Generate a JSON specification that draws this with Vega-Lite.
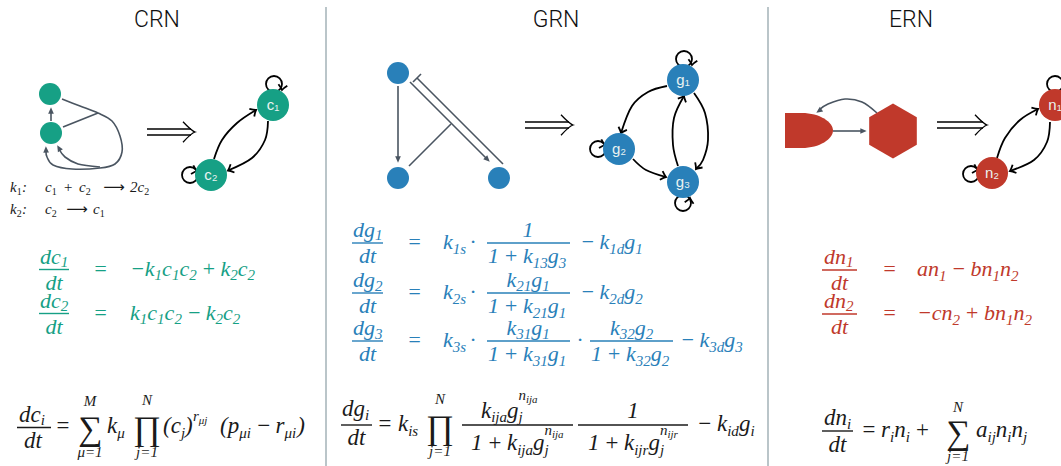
{
"$schema":"https://vega.github.io/schema/vega-lite/v6.json",
"width":1061,"height":466,"padding":0,"autosize":{"type":"none"},
"background":"white",
"config":{"view":{"stroke":null}},
"datasets":{
"div":[{"x":326,"y":7,"y2":466},{"x":768,"y":7,"y2":466}],
"gl":[
{"id":"a","o":1,"x":51,"y":121},{"id":"a","o":2,"x":51,"y":110},
{"id":"b","o":1,"x":62,"y":99},{"id":"b","o":2,"x":80,"y":106},{"id":"b","o":3,"x":98,"y":113},{"id":"b","o":4,"x":112,"y":121},{"id":"b","o":5,"x":120,"y":136},{"id":"b","o":6,"x":122,"y":152},{"id":"b","o":7,"x":115,"y":164},{"id":"b","o":8,"x":100,"y":168},{"id":"b","o":9,"x":72,"y":169},{"id":"b","o":10,"x":53,"y":165},{"id":"b","o":11,"x":47,"y":157},{"id":"b","o":12,"x":46,"y":151},
{"id":"c","o":1,"x":100,"y":167},{"id":"c","o":2,"x":78,"y":164},{"id":"c","o":3,"x":65,"y":157},{"id":"c","o":4,"x":59,"y":149},
{"id":"d","o":1,"x":63,"y":127},{"id":"d","o":2,"x":98,"y":113},
{"id":"e","o":1,"x":398,"y":86},{"id":"e","o":2,"x":398,"y":159},
{"id":"f","o":1,"x":409,"y":166},{"id":"f","o":2,"x":451,"y":124},
{"id":"g","o":1,"x":410,"y":82},{"id":"g","o":2,"x":487,"y":159},
{"id":"h","o":1,"x":503,"y":164},{"id":"h","o":2,"x":417,"y":78},
{"id":"i","o":1,"x":421,"y":74},{"id":"i","o":2,"x":413,"y":82},
{"id":"j","o":1,"x":833,"y":131},{"id":"j","o":2,"x":863,"y":131},
{"id":"k","o":1,"x":877,"y":113},{"id":"k","o":2,"x":862,"y":102},{"id":"k","o":3,"x":845,"y":99},{"id":"k","o":4,"x":828,"y":104},{"id":"k","o":5,"x":819,"y":110}
],
"gh":[{"x":51,"y":110.5,"a":270},{"x":46,"y":149.5,"a":268},{"x":58.8,"y":148,"a":240},{"x":398,"y":159.5,"a":90},{"x":487.5,"y":159.5,"a":45},{"x":863.5,"y":131,"a":0},{"x":818.9,"y":111,"a":145}],
"shp":[{"x":893,"y":131,"s":"hex"},{"x":809,"y":130.5,"s":"half"}],
"ns":[{"x":50,"y":94,"n":"c"},{"x":51,"y":133,"n":"c"},{"x":398,"y":73,"n":"b"},{"x":398,"y":178,"n":"b"},{"x":499,"y":178,"n":"b"}],
"lp":[{"x":274,"y":84},{"x":190,"y":175},{"x":684,"y":59},{"x":598,"y":149},{"x":683,"y":203},{"x":1055,"y":84},{"x":971,"y":174}],
"bl":[
{"id":"p1","o":1,"x":214,"y":159},{"id":"p1","o":2,"x":222,"y":140},{"id":"p1","o":3,"x":237,"y":123},{"id":"p1","o":4,"x":256,"y":110},
{"id":"p2","o":1,"x":268,"y":121},{"id":"p2","o":2,"x":265,"y":140},{"id":"p2","o":3,"x":252,"y":158},{"id":"p2","o":4,"x":228,"y":170.5},
{"id":"p3","o":1,"x":667,"y":86},{"id":"p3","o":2,"x":648,"y":92},{"id":"p3","o":3,"x":632,"y":106},{"id":"p3","o":4,"x":621,"y":133},
{"id":"p4","o":1,"x":633,"y":159},{"id":"p4","o":2,"x":646,"y":170},{"id":"p4","o":3,"x":666,"y":177},
{"id":"p5","o":1,"x":678,"y":166},{"id":"p5","o":2,"x":673,"y":145},{"id":"p5","o":3,"x":674,"y":118},{"id":"p5","o":4,"x":684,"y":96},
{"id":"p6","o":1,"x":694,"y":93},{"id":"p6","o":2,"x":705,"y":113},{"id":"p6","o":3,"x":708,"y":140},{"id":"p6","o":4,"x":703,"y":160},{"id":"p6","o":5,"x":696,"y":169},
{"id":"p7","o":1,"x":997,"y":158},{"id":"p7","o":2,"x":1005,"y":138},{"id":"p7","o":3,"x":1020,"y":120},{"id":"p7","o":4,"x":1038,"y":109},
{"id":"p8","o":1,"x":1050,"y":122},{"id":"p8","o":2,"x":1047,"y":142},{"id":"p8","o":3,"x":1034,"y":160},{"id":"p8","o":4,"x":1010,"y":171}
],
"ch":[{"x":256,"y":110,"a":327},{"x":228,"y":170.5,"a":155},{"x":621,"y":133,"a":110},{"x":666,"y":177,"a":18},{"x":684,"y":96,"a":295},{"x":696,"y":169,"a":125},{"x":1038,"y":109,"a":330},{"x":1010,"y":171,"a":155},
{"x":282,"y":90,"a":100},{"x":197,"y":171,"a":15},{"x":692,"y":65,"a":100},{"x":605,"y":145,"a":15},{"x":690,"y":198,"a":280},{"x":978,"y":170,"a":15}],
"nb":[{"x":273,"y":105,"n":"c","l":"c₁"},{"x":211,"y":175,"n":"c","l":"c₂"},{"x":683,"y":80,"n":"b","l":"g₁"},{"x":619,"y":149,"n":"b","l":"g₂"},{"x":683,"y":182,"n":"b","l":"g₃"},{"x":1055,"y":105,"n":"r","l":"n₁"},{"x":992,"y":173,"n":"r","l":"n₂"}],
"dl":[{"x":147,"x2":191,"y":129},{"x":147,"x2":191,"y":135},{"x":525,"x2":569,"y":122},{"x":525,"x2":569,"y":128},{"x":937,"x2":983,"y":122},{"x":937,"x2":983,"y":128}],
"dh":[{"x":195,"y":132},{"x":573,"y":125},{"x":987,"y":125}],
"fb":[{"x":39,"x2":69,"y":269.5,"n":"c"},{"x":39,"x2":69,"y":313.5,"n":"c"},{"x":17,"x2":51,"y":427.5,"n":"k"},
{"x":352,"x2":383,"y":243,"n":"b"},{"x":487,"x2":570,"y":243,"n":"b"},{"x":352,"x2":383,"y":293,"n":"b"},{"x":487,"x2":570,"y":293,"n":"b"},{"x":352,"x2":383,"y":341,"n":"b"},{"x":487,"x2":570,"y":341,"n":"b"},{"x":590,"x2":673,"y":341,"n":"b"},
{"x":341,"x2":372,"y":425,"n":"k"},{"x":462,"x2":573,"y":425,"n":"k"},{"x":578,"x2":688,"y":425,"n":"k"},
{"x":822,"x2":857,"y":270,"n":"r"},{"x":822,"x2":857,"y":314,"n":"r"},{"x":822,"x2":853,"y":431,"n":"k"}],
"txt":[
{"x":157,"y":27,"t":"CRN","r":"title","n":"k"},{"x":556,"y":27,"t":"GRN","r":"title","n":"k"},{"x":911,"y":27,"t":"ERN","r":"title","n":"k"},
{"x":10,"y":192,"t":"k","r":"rx","n":"k"},{"x":16.7,"y":195,"t":"1","r":"rxs","n":"k"},{"x":22,"y":192,"t":":","r":"rx","n":"k"},{"x":45,"y":192,"t":"c","r":"rx","n":"k"},{"x":51.7,"y":195,"t":"1","r":"rxs","n":"k"},{"x":63,"y":192,"t":"+","r":"rx","n":"k"},{"x":79,"y":192,"t":"c","r":"rx","n":"k"},{"x":85.7,"y":195,"t":"2","r":"rxs","n":"k"},{"x":114,"y":192,"t":"⟶","r":"arr","n":"k"},{"x":130,"y":192,"t":"2c","r":"rx","n":"k"},{"x":144.2,"y":195,"t":"2","r":"rxs","n":"k"},
{"x":10,"y":214,"t":"k","r":"rx","n":"k"},{"x":16.7,"y":217,"t":"2","r":"rxs","n":"k"},{"x":22,"y":214,"t":":","r":"rx","n":"k"},{"x":45,"y":214,"t":"c","r":"rx","n":"k"},{"x":51.7,"y":217,"t":"2","r":"rxs","n":"k"},{"x":77,"y":214,"t":"⟶","r":"arr","n":"k"},{"x":93,"y":214,"t":"c","r":"rx","n":"k"},{"x":99.7,"y":217,"t":"1","r":"rxs","n":"k"},
{"x":40,"y":263.5,"t":"dc","r":"m","n":"c"},{"x":60.8,"y":266.5,"t":"1","r":"s","n":"c"},{"x":45.4,"y":289.5,"t":"dt","r":"m","n":"c"},{"x":93,"y":275.5,"t":"=","r":"m","n":"c"},{"x":130,"y":275.5,"t":"−k","r":"m","n":"c"},{"x":154.6,"y":280,"t":"1","r":"s","n":"c"},{"x":162.1,"y":275.5,"t":"c","r":"m","n":"c"},{"x":171.9,"y":280,"t":"1","r":"s","n":"c"},{"x":179.4,"y":275.5,"t":"c","r":"m","n":"c"},{"x":189.2,"y":280,"t":"2","r":"s","n":"c"},{"x":201.2,"y":275.5,"t":"+","r":"m","n":"c"},{"x":220.5,"y":275.5,"t":"k","r":"m","n":"c"},{"x":230.3,"y":280,"t":"2","r":"s","n":"c"},{"x":237.8,"y":275.5,"t":"c","r":"m","n":"c"},{"x":247.6,"y":280,"t":"2","r":"s","n":"c"},
{"x":40,"y":307.5,"t":"dc","r":"m","n":"c"},{"x":60.8,"y":310.5,"t":"2","r":"s","n":"c"},{"x":45.4,"y":333.5,"t":"dt","r":"m","n":"c"},{"x":93,"y":319.5,"t":"=","r":"m","n":"c"},{"x":130,"y":319.5,"t":"k","r":"m","n":"c"},{"x":139.8,"y":324,"t":"1","r":"s","n":"c"},{"x":147.3,"y":319.5,"t":"c","r":"m","n":"c"},{"x":157.1,"y":324,"t":"1","r":"s","n":"c"},{"x":164.6,"y":319.5,"t":"c","r":"m","n":"c"},{"x":174.4,"y":324,"t":"2","r":"s","n":"c"},{"x":186.4,"y":319.5,"t":"−","r":"m","n":"c"},{"x":205.7,"y":319.5,"t":"k","r":"m","n":"c"},{"x":215.5,"y":324,"t":"2","r":"s","n":"c"},{"x":223,"y":319.5,"t":"c","r":"m","n":"c"},{"x":232.8,"y":324,"t":"2","r":"s","n":"c"},
{"x":19,"y":422,"t":"dc","r":"M","n":"k"},{"x":40.7,"y":425,"t":"i","r":"s","n":"k"},{"x":24,"y":448,"t":"dt","r":"M","n":"k"},{"x":55,"y":433,"t":"=","r":"M","n":"k"},
{"x":90,"y":430,"t":"∑","r":"op","n":"k"},{"x":90,"y":406,"t":"M","r":"lim","n":"k"},{"x":90,"y":457,"t":"μ=1","r":"lim","n":"k"},
{"x":107,"y":433,"t":"k","r":"M","n":"k"},{"x":117.2,"y":437.5,"t":"μ","r":"s","n":"k"},
{"x":147,"y":430,"t":"∏","r":"op","n":"k"},{"x":147,"y":405,"t":"N","r":"lim","n":"k"},{"x":147,"y":457,"t":"j=1","r":"lim","n":"k"},
{"x":163,"y":433,"t":"(c","r":"M","n":"k"},{"x":180.9,"y":437.5,"t":"j","r":"s","n":"k"},{"x":185,"y":433,"t":")","r":"M","n":"k"},{"x":193,"y":421,"t":"r","r":"s","n":"k"},{"x":198.8,"y":424,"t":"μj","r":"ss","n":"k"},
{"x":220,"y":433,"t":"(p","r":"M","n":"k"},{"x":239.2,"y":437.5,"t":"μi","r":"s","n":"k"},{"x":256,"y":433,"t":"−","r":"M","n":"k"},{"x":275.5,"y":433,"t":"r","r":"M","n":"k"},{"x":284.4,"y":437.5,"t":"μi","r":"s","n":"k"},{"x":297.2,"y":433,"t":")","r":"M","n":"k"},
{"x":353,"y":237,"t":"dg","r":"m","n":"b"},{"x":375,"y":240,"t":"1","r":"s","n":"b"},{"x":359,"y":263,"t":"dt","r":"m","n":"b"},{"x":407,"y":249,"t":"=","r":"m","n":"b"},{"x":443,"y":249,"t":"k","r":"m","n":"b"},{"x":452.8,"y":253.5,"t":"1s","r":"s","n":"b"},{"x":470,"y":249,"t":"·","r":"m","n":"b"},{"x":522.5,"y":237,"t":"1","r":"m","n":"b"},{"x":488,"y":263,"t":"1","r":"m","n":"b"},{"x":503.5,"y":263,"t":"+","r":"m","n":"b"},{"x":522.9,"y":263,"t":"k","r":"m","n":"b"},{"x":532.7,"y":267.5,"t":"13","r":"s","n":"b"},{"x":547.7,"y":263,"t":"g","r":"m","n":"b"},{"x":558.7,"y":267.5,"t":"3","r":"s","n":"b"},{"x":580,"y":249,"t":"−","r":"m","n":"b"},{"x":599.4,"y":249,"t":"k","r":"m","n":"b"},{"x":609.2,"y":253.5,"t":"1d","r":"s","n":"b"},{"x":624.2,"y":249,"t":"g","r":"m","n":"b"},{"x":635.2,"y":253.5,"t":"1","r":"s","n":"b"},
{"x":353,"y":287,"t":"dg","r":"m","n":"b"},{"x":375,"y":290.5,"t":"2","r":"s","n":"b"},{"x":359,"y":313,"t":"dt","r":"m","n":"b"},{"x":407,"y":299,"t":"=","r":"m","n":"b"},{"x":443,"y":299,"t":"k","r":"m","n":"b"},{"x":452.8,"y":303.5,"t":"2s","r":"s","n":"b"},{"x":470,"y":299,"t":"·","r":"m","n":"b"},{"x":506.4,"y":287,"t":"k","r":"m","n":"b"},{"x":516.2,"y":290.5,"t":"21","r":"s","n":"b"},{"x":531.2,"y":287,"t":"g","r":"m","n":"b"},{"x":542.2,"y":290.5,"t":"1","r":"s","n":"b"},{"x":488,"y":313,"t":"1","r":"m","n":"b"},{"x":503.5,"y":313,"t":"+","r":"m","n":"b"},{"x":522.9,"y":313,"t":"k","r":"m","n":"b"},{"x":532.7,"y":317.5,"t":"21","r":"s","n":"b"},{"x":547.7,"y":313,"t":"g","r":"m","n":"b"},{"x":558.7,"y":317.5,"t":"1","r":"s","n":"b"},{"x":580,"y":299,"t":"−","r":"m","n":"b"},{"x":599.4,"y":299,"t":"k","r":"m","n":"b"},{"x":609.2,"y":303.5,"t":"2d","r":"s","n":"b"},{"x":624.2,"y":299,"t":"g","r":"m","n":"b"},{"x":635.2,"y":303.5,"t":"2","r":"s","n":"b"},
{"x":353,"y":335,"t":"dg","r":"m","n":"b"},{"x":375,"y":338.5,"t":"3","r":"s","n":"b"},{"x":359,"y":361,"t":"dt","r":"m","n":"b"},{"x":407,"y":347,"t":"=","r":"m","n":"b"},{"x":443,"y":347,"t":"k","r":"m","n":"b"},{"x":452.8,"y":351.5,"t":"3s","r":"s","n":"b"},{"x":470,"y":347,"t":"·","r":"m","n":"b"},{"x":506.4,"y":335,"t":"k","r":"m","n":"b"},{"x":516.2,"y":338.5,"t":"31","r":"s","n":"b"},{"x":531.2,"y":335,"t":"g","r":"m","n":"b"},{"x":542.2,"y":338.5,"t":"1","r":"s","n":"b"},{"x":488,"y":361,"t":"1","r":"m","n":"b"},{"x":503.5,"y":361,"t":"+","r":"m","n":"b"},{"x":522.9,"y":361,"t":"k","r":"m","n":"b"},{"x":532.7,"y":365.5,"t":"31","r":"s","n":"b"},{"x":547.7,"y":361,"t":"g","r":"m","n":"b"},{"x":558.7,"y":365.5,"t":"1","r":"s","n":"b"},{"x":577,"y":347,"t":"·","r":"m","n":"b"},{"x":609.9,"y":335,"t":"k","r":"m","n":"b"},{"x":619.7,"y":338.5,"t":"32","r":"s","n":"b"},{"x":634.7,"y":335,"t":"g","r":"m","n":"b"},{"x":645.7,"y":338.5,"t":"2","r":"s","n":"b"},{"x":591,"y":361,"t":"1","r":"m","n":"b"},{"x":606.5,"y":361,"t":"+","r":"m","n":"b"},{"x":625.9,"y":361,"t":"k","r":"m","n":"b"},{"x":635.7,"y":365.5,"t":"32","r":"s","n":"b"},{"x":650.7,"y":361,"t":"g","r":"m","n":"b"},{"x":661.7,"y":365.5,"t":"2","r":"s","n":"b"},{"x":680,"y":347,"t":"−","r":"m","n":"b"},{"x":699.4,"y":347,"t":"k","r":"m","n":"b"},{"x":709.2,"y":351.5,"t":"3d","r":"s","n":"b"},{"x":724.2,"y":347,"t":"g","r":"m","n":"b"},{"x":735.2,"y":351.5,"t":"3","r":"s","n":"b"},
{"x":342,"y":416,"t":"dg","r":"M","n":"k"},{"x":365,"y":419.5,"t":"i","r":"s","n":"k"},{"x":347.5,"y":445,"t":"dt","r":"M","n":"k"},{"x":377,"y":431,"t":"=","r":"M","n":"k"},{"x":398,"y":431,"t":"k","r":"M","n":"k"},{"x":408.2,"y":435.5,"t":"is","r":"s","n":"k"},
{"x":440,"y":428.5,"t":"∏","r":"op","n":"k"},{"x":440,"y":404,"t":"N","r":"lim","n":"k"},{"x":440,"y":456,"t":"j=1","r":"lim","n":"k"},
{"x":481,"y":418,"t":"k","r":"M","n":"k"},{"x":491.2,"y":421.5,"t":"ija","r":"s","n":"k"},{"x":507,"y":418,"t":"g","r":"M","n":"k"},{"x":518.5,"y":421.5,"t":"j","r":"s","n":"k"},{"x":518.5,"y":400,"t":"n","r":"s","n":"k"},{"x":526,"y":403,"t":"ija","r":"ss","n":"k"},
{"x":471,"y":450,"t":"1","r":"M","n":"k"},{"x":487,"y":450,"t":"+","r":"M","n":"k"},{"x":507,"y":450,"t":"k","r":"M","n":"k"},{"x":517.2,"y":454.5,"t":"ija","r":"s","n":"k"},{"x":533,"y":450,"t":"g","r":"M","n":"k"},{"x":544.5,"y":454.5,"t":"j","r":"s","n":"k"},{"x":544.5,"y":435,"t":"n","r":"s","n":"k"},{"x":552,"y":438,"t":"ija","r":"ss","n":"k"},
{"x":627.3,"y":418,"t":"1","r":"M","n":"k"},
{"x":588,"y":450,"t":"1","r":"M","n":"k"},{"x":604,"y":450,"t":"+","r":"M","n":"k"},{"x":624,"y":450,"t":"k","r":"M","n":"k"},{"x":634.2,"y":454.5,"t":"ijr","r":"s","n":"k"},{"x":648.4,"y":450,"t":"g","r":"M","n":"k"},{"x":659.9,"y":454.5,"t":"j","r":"s","n":"k"},{"x":659.9,"y":435,"t":"n","r":"s","n":"k"},{"x":667.4,"y":438,"t":"ijr","r":"ss","n":"k"},
{"x":697,"y":431,"t":"−","r":"M","n":"k"},{"x":717,"y":431,"t":"k","r":"M","n":"k"},{"x":727.2,"y":435.5,"t":"id","r":"s","n":"k"},{"x":738.9,"y":431,"t":"g","r":"M","n":"k"},{"x":750.4,"y":435.5,"t":"i","r":"s","n":"k"},
{"x":824,"y":264,"t":"dn","r":"m","n":"r"},{"x":846,"y":267,"t":"1","r":"s","n":"r"},{"x":831,"y":290,"t":"dt","r":"m","n":"r"},{"x":882,"y":276,"t":"=","r":"m","n":"r"},{"x":917,"y":276,"t":"an","r":"m","n":"r"},{"x":939,"y":280.5,"t":"1","r":"s","n":"r"},{"x":951,"y":276,"t":"−","r":"m","n":"r"},{"x":970.4,"y":276,"t":"bn","r":"m","n":"r"},{"x":992.4,"y":280.5,"t":"1","r":"s","n":"r"},{"x":999.9,"y":276,"t":"n","r":"m","n":"r"},{"x":1010.9,"y":280.5,"t":"2","r":"s","n":"r"},
{"x":824,"y":308,"t":"dn","r":"m","n":"r"},{"x":846,"y":311,"t":"2","r":"s","n":"r"},{"x":831,"y":334,"t":"dt","r":"m","n":"r"},{"x":882,"y":320,"t":"=","r":"m","n":"r"},{"x":917,"y":320,"t":"−cn","r":"m","n":"r"},{"x":952.6,"y":324.5,"t":"2","r":"s","n":"r"},{"x":964.6,"y":320,"t":"+","r":"m","n":"r"},{"x":984,"y":320,"t":"bn","r":"m","n":"r"},{"x":1006,"y":324.5,"t":"1","r":"s","n":"r"},{"x":1013.5,"y":320,"t":"n","r":"m","n":"r"},{"x":1024.5,"y":324.5,"t":"2","r":"s","n":"r"},
{"x":824,"y":425,"t":"dn","r":"M","n":"k"},{"x":847,"y":428.5,"t":"i","r":"s","n":"k"},{"x":828.6,"y":452,"t":"dt","r":"M","n":"k"},{"x":861,"y":437,"t":"=","r":"M","n":"k"},{"x":881,"y":437,"t":"r","r":"M","n":"k"},{"x":890,"y":441.5,"t":"i","r":"s","n":"k"},{"x":894.2,"y":437,"t":"n","r":"M","n":"k"},{"x":905.7,"y":441.5,"t":"i","r":"s","n":"k"},{"x":914.4,"y":437,"t":"+","r":"M","n":"k"},
{"x":958,"y":434,"t":"∑","r":"op","n":"k"},{"x":958,"y":412,"t":"N","r":"lim","n":"k"},{"x":958,"y":461,"t":"j=1","r":"lim","n":"k"},
{"x":976,"y":437,"t":"a","r":"M","n":"k"},{"x":987.5,"y":441.5,"t":"ij","r":"s","n":"k"},{"x":995.8,"y":437,"t":"n","r":"M","n":"k"},{"x":1007.3,"y":441.5,"t":"i","r":"s","n":"k"},{"x":1011.5,"y":437,"t":"n","r":"M","n":"k"},{"x":1023,"y":441.5,"t":"j","r":"s","n":"k"}
]
},
"layer":[
{"data":{"name":"div"},"mark":{"type":"rule","color":"#a3b2b7","strokeWidth":1.5},
 "encoding":{"x":{"field":"x","type":"quantitative","scale":{"domain":[0,1061],"nice":false,"zero":false},"axis":null},
  "y":{"field":"y","type":"quantitative","scale":{"domain":[0,466],"nice":false,"zero":false,"reverse":true},"axis":null},"y2":{"field":"y2"}}},
{"data":{"name":"gl"},"mark":{"type":"line","interpolate":"cardinal","color":"#4a5561","strokeWidth":1.6},
 "encoding":{"x":{"field":"x","type":"quantitative","axis":null},"y":{"field":"y","type":"quantitative","axis":null},"detail":{"field":"id"},"order":{"field":"o","type":"quantitative"}}},
{"data":{"name":"gh"},"mark":{"type":"point","shape":"M 1 0 L -1 -0.9 L -1 0.9 Z","filled":true,"color":"#4a5561","size":40,"opacity":1},
 "encoding":{"x":{"field":"x","type":"quantitative","axis":null},"y":{"field":"y","type":"quantitative","axis":null},"angle":{"field":"a","type":"quantitative","scale":null}}},
{"data":{"name":"shp"},"transform":[{"filter":"datum.s === 'hex'"}],"mark":{"type":"point","shape":"M 0 -1 L 0.866 -0.5 L 0.866 0.5 L 0 1 L -0.866 0.5 L -0.866 -0.5 Z","filled":true,"color":"#c0392b","size":3025,"opacity":1},
 "encoding":{"x":{"field":"x","type":"quantitative","axis":null},"y":{"field":"y","type":"quantitative","axis":null}}},
{"data":{"name":"shp"},"transform":[{"filter":"datum.s === 'half'"}],"mark":{"type":"point","shape":"M -1 -0.73 L -0.3 -0.73 C 0.45 -0.73 1 -0.35 1 0 C 1 0.35 0.45 0.73 -0.3 0.73 L -1 0.73 Z","filled":true,"color":"#c0392b","size":2304,"opacity":1},
 "encoding":{"x":{"field":"x","type":"quantitative","axis":null},"y":{"field":"y","type":"quantitative","axis":null}}},
{"data":{"name":"ns"},"mark":{"type":"point","shape":"circle","filled":true,"size":484,"opacity":1},
 "encoding":{"x":{"field":"x","type":"quantitative","axis":null},"y":{"field":"y","type":"quantitative","axis":null},
  "color":{"field":"n","type":"nominal","scale":{"domain":["c","b","r","k"],"range":["#16a085","#2980b9","#c0392b","#1a1a1a"]},"legend":null}}},
{"data":{"name":"lp"},"mark":{"type":"point","shape":"circle","filled":false,"color":"black","strokeWidth":1.8,"size":256,"opacity":1},
 "encoding":{"x":{"field":"x","type":"quantitative","axis":null},"y":{"field":"y","type":"quantitative","axis":null}}},
{"data":{"name":"bl"},"mark":{"type":"line","interpolate":"cardinal","color":"black","strokeWidth":1.8},
 "encoding":{"x":{"field":"x","type":"quantitative","axis":null},"y":{"field":"y","type":"quantitative","axis":null},"detail":{"field":"id"},"order":{"field":"o","type":"quantitative"}}},
{"data":{"name":"ch"},"mark":{"type":"point","shape":"M -1 -0.9 Q -0.35 -0.2 0 0 Q -0.35 0.2 -1 0.9","filled":false,"color":"black","strokeWidth":1.8,"size":100,"opacity":1},
 "encoding":{"x":{"field":"x","type":"quantitative","axis":null},"y":{"field":"y","type":"quantitative","axis":null},"angle":{"field":"a","type":"quantitative","scale":null}}},
{"data":{"name":"nb"},"mark":{"type":"point","shape":"circle","filled":true,"size":1024,"opacity":1},
 "encoding":{"x":{"field":"x","type":"quantitative","axis":null},"y":{"field":"y","type":"quantitative","axis":null},
  "color":{"field":"n","type":"nominal","scale":{"domain":["c","b","r","k"],"range":["#16a085","#2980b9","#c0392b","#1a1a1a"]},"legend":null}}},
{"data":{"name":"nb"},"mark":{"type":"text","font":"Liberation Sans","fontSize":15,"color":"#eaf3f1","align":"center","baseline":"middle"},
 "encoding":{"x":{"field":"x","type":"quantitative","axis":null},"y":{"field":"y","type":"quantitative","axis":null},"text":{"field":"l"}}},
{"data":{"name":"dl"},"mark":{"type":"rule","color":"black","strokeWidth":1.3},
 "encoding":{"x":{"field":"x","type":"quantitative","axis":null},"x2":{"field":"x2"},"y":{"field":"y","type":"quantitative","axis":null}}},
{"data":{"name":"dh"},"mark":{"type":"point","shape":"M -1 -0.85 Q -0.3 -0.1 0 0 Q -0.3 0.1 -1 0.85","filled":false,"color":"black","strokeWidth":1.3,"size":576,"opacity":1},
 "encoding":{"x":{"field":"x","type":"quantitative","axis":null},"y":{"field":"y","type":"quantitative","axis":null}}},
{"data":{"name":"fb"},"mark":{"type":"rule","strokeWidth":1.4},
 "encoding":{"x":{"field":"x","type":"quantitative","axis":null},"x2":{"field":"x2"},"y":{"field":"y","type":"quantitative","axis":null},
  "color":{"field":"n","type":"nominal","scale":{"domain":["c","b","r","k"],"range":["#16a085","#2980b9","#c0392b","#1a1a1a"]},"legend":null}}},
{"data":{"name":"txt"},"transform":[{"filter":"datum.r === 'title'"}],"mark":{"type":"text","font":"Roboto","fontWeight":300,"fontSize":23,"align":"center","baseline":"alphabetic","color":"#111"},
 "encoding":{"x":{"field":"x","type":"quantitative","axis":null},"y":{"field":"y","type":"quantitative","axis":null},"text":{"field":"t"}}},
{"data":{"name":"txt"},"transform":[{"filter":"datum.r === 'm'"}],"mark":{"type":"text","font":"Liberation Serif, DejaVu Serif, serif","fontStyle":"italic","fontSize":22,"align":"left","baseline":"alphabetic"},
 "encoding":{"x":{"field":"x","type":"quantitative","axis":null},"y":{"field":"y","type":"quantitative","axis":null},"text":{"field":"t"},
  "color":{"field":"n","type":"nominal","scale":{"domain":["c","b","r","k"],"range":["#16a085","#2980b9","#c0392b","#1a1a1a"]},"legend":null}}},
{"data":{"name":"txt"},"transform":[{"filter":"datum.r === 'M'"}],"mark":{"type":"text","font":"Liberation Serif, DejaVu Serif, serif","fontStyle":"italic","fontSize":23,"align":"left","baseline":"alphabetic"},
 "encoding":{"x":{"field":"x","type":"quantitative","axis":null},"y":{"field":"y","type":"quantitative","axis":null},"text":{"field":"t"},
  "color":{"field":"n","type":"nominal","scale":{"domain":["c","b","r","k"],"range":["#16a085","#2980b9","#c0392b","#1a1a1a"]},"legend":null}}},
{"data":{"name":"txt"},"transform":[{"filter":"datum.r === 's'"}],"mark":{"type":"text","font":"Liberation Serif, DejaVu Serif, serif","fontStyle":"italic","fontSize":15,"align":"left","baseline":"alphabetic"},
 "encoding":{"x":{"field":"x","type":"quantitative","axis":null},"y":{"field":"y","type":"quantitative","axis":null},"text":{"field":"t"},
  "color":{"field":"n","type":"nominal","scale":{"domain":["c","b","r","k"],"range":["#16a085","#2980b9","#c0392b","#1a1a1a"]},"legend":null}}},
{"data":{"name":"txt"},"transform":[{"filter":"datum.r === 'ss'"}],"mark":{"type":"text","font":"Liberation Serif, DejaVu Serif, serif","fontStyle":"italic","fontSize":11,"align":"left","baseline":"alphabetic","color":"#1a1a1a"},
 "encoding":{"x":{"field":"x","type":"quantitative","axis":null},"y":{"field":"y","type":"quantitative","axis":null},"text":{"field":"t"}}},
{"data":{"name":"txt"},"transform":[{"filter":"datum.r === 'rx'"}],"mark":{"type":"text","font":"Liberation Serif, DejaVu Serif, serif","fontStyle":"italic","fontSize":15,"align":"left","baseline":"alphabetic","color":"#1a1a1a"},
 "encoding":{"x":{"field":"x","type":"quantitative","axis":null},"y":{"field":"y","type":"quantitative","axis":null},"text":{"field":"t"}}},
{"data":{"name":"txt"},"transform":[{"filter":"datum.r === 'rxs'"}],"mark":{"type":"text","font":"Liberation Serif, DejaVu Serif, serif","fontSize":10,"align":"left","baseline":"alphabetic","color":"#1a1a1a"},
 "encoding":{"x":{"field":"x","type":"quantitative","axis":null},"y":{"field":"y","type":"quantitative","axis":null},"text":{"field":"t"}}},
{"data":{"name":"txt"},"transform":[{"filter":"datum.r === 'arr'"}],"mark":{"type":"text","font":"DejaVu Sans","fontSize":15,"align":"center","baseline":"alphabetic","color":"#1a1a1a"},
 "encoding":{"x":{"field":"x","type":"quantitative","axis":null},"y":{"field":"y","type":"quantitative","axis":null},"text":{"field":"t"}}},
{"data":{"name":"txt"},"transform":[{"filter":"datum.r === 'lim'"}],"mark":{"type":"text","font":"Liberation Serif, DejaVu Serif, serif","fontStyle":"italic","fontSize":15,"align":"center","baseline":"alphabetic","color":"#1a1a1a"},
 "encoding":{"x":{"field":"x","type":"quantitative","axis":null},"y":{"field":"y","type":"quantitative","axis":null},"text":{"field":"t"}}},
{"data":{"name":"txt"},"transform":[{"filter":"datum.r === 'op'"}],"mark":{"type":"text","font":"Liberation Serif, DejaVu Serif, serif","fontSize":34,"align":"center","baseline":"middle","color":"#1a1a1a"},
 "encoding":{"x":{"field":"x","type":"quantitative","axis":null},"y":{"field":"y","type":"quantitative","axis":null},"text":{"field":"t"}}}
]
}
